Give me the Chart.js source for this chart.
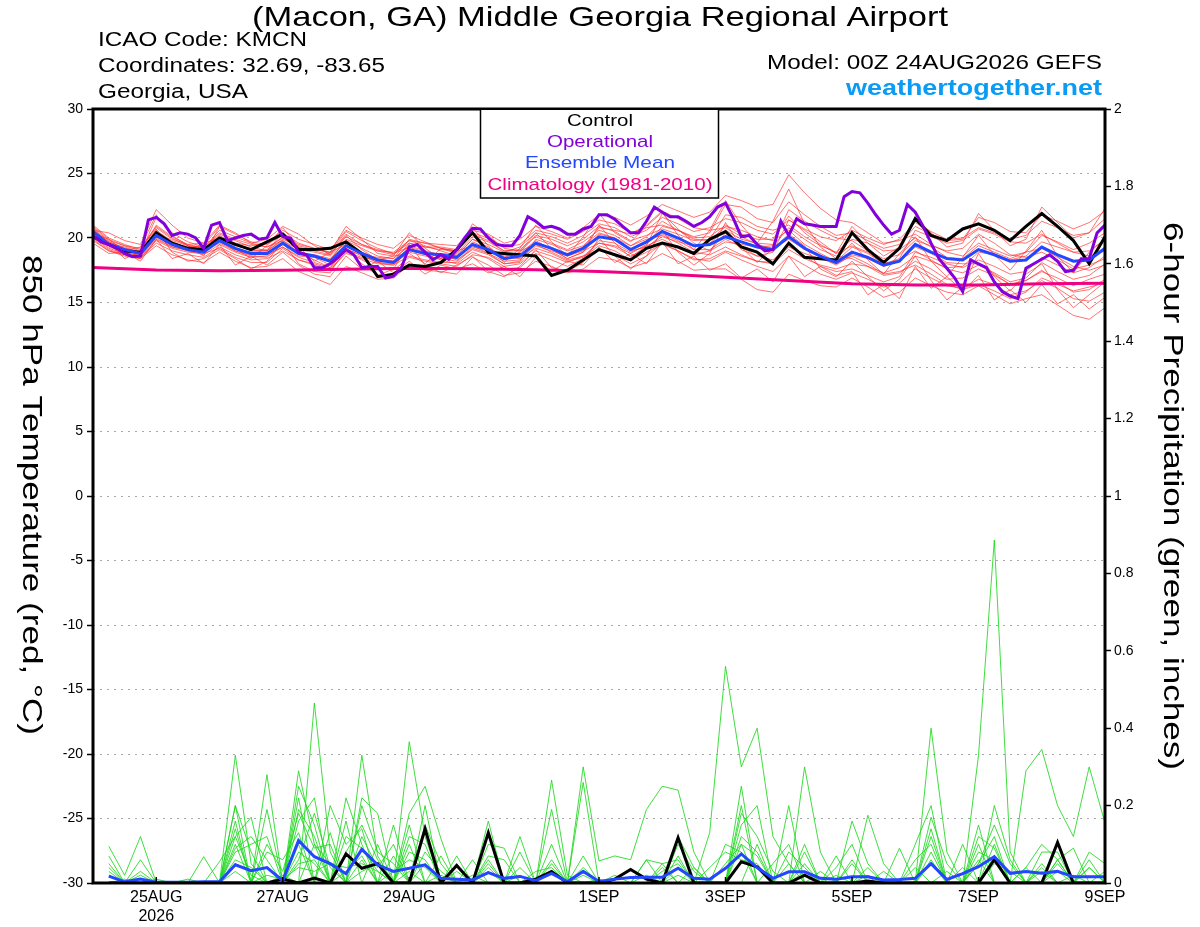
<!DOCTYPE html>
<html>
<head>
<meta charset="utf-8">
<script src="https://cdn.jsdelivr.net/npm/chart.js@4.4.1/dist/chart.umd.min.js"></script>
<style>
  html, body { margin: 0; padding: 0; background: #fff; }
</style>
</head>
<body>
<canvas id="myChart" width="1200" height="927"></canvas>
<script>
// Texts
const titleText = '(Macon, GA) Middle Georgia Regional Airport';
const infoLines = ['ICAO Code: KMCN', 'Coordinates: 32.69, -83.65', 'Georgia, USA'];
const modelText = 'Model: 00Z 24AUG2026 GEFS';
const siteText = 'weathertogether.net';
const leftTitle = '850 hPa Temperature (red, \u00B0C)';
const rightTitle = '6-hour Precipitation (green, inches)';
const legendNames = ['Control', 'Operational', 'Ensemble Mean', 'Climatology (1981-2010)'];

// x axis: hours after 00Z 24AUG2026
const tickHours = [24, 72, 120, 192, 240, 288, 336, 384];
const tickLabels = [['25AUG', '2026'], '27AUG', '29AUG', '1SEP', '3SEP', '5SEP', '7SEP', '9SEP'];

// Colors
const controlColor = '#000000';
const operColor = 'rgb(130, 0, 220)';
const meanColor = 'rgb(35, 70, 255)';
const climColor = 'rgb(240, 0, 130)';
const memberTempColor = 'rgba(255, 40, 40, 0.65)';
const memberPrecipColor = 'rgba(30, 215, 30, 0.85)';

// 850 hPa temperature, every 6 h from 00Z 24AUG
const tempControl = [20.1,19.5,19.0,18.9, 20.4,19.6,19.2,19.1, 20.0,19.5,19.1,19.7, 20.3,19.1,19.1,19.2, 19.7,18.8,17.0,17.2, 17.9,17.8,18.1,19.1, 20.4,18.9,18.8,18.7, 18.6,17.1,17.5,18.3, 19.1,18.7,18.3,19.2, 19.6,19.3,18.8,19.9, 20.5,19.3,18.9,18.0, 19.6,18.5,18.4,18.3, 20.4,19.1,18.1,19.2, 21.5,20.2,19.8,20.7, 21.1,20.6,19.8,20.9, 21.9,20.9,19.8,18.0, 20.1];
const tempMean = [20.5,19.5,19.1,18.8, 20.2,19.5,19.1,18.9, 19.8,19.2,18.8,18.8, 19.6,18.8,18.6,18.2, 19.4,18.8,18.3,18.1, 19.1,18.8,18.7,18.5, 19.5,19.1,18.4,18.6, 19.6,19.2,18.7,19.2, 20.1,19.9,19.1,19.7, 20.5,20.0,19.4,19.5, 20.1,19.7,19.3,19.1, 20.1,19.2,18.6,18.1, 18.9,18.5,17.9,18.2, 19.5,18.9,18.4,18.3, 19.1,18.7,18.2,18.3, 19.3,18.7,18.2,18.3, 19.2];
// operational run, every 3 h
const tempOper = [20.2,19.7,19.5,19.2,18.8,18.55,18.6,21.4,21.6,21.1, 20.2,20.4,20.3,20.0,19.2,21.0,21.2,19.8,20.0,20.2, 20.3,19.9,20.0,21.2,20.1,20.0,18.9,18.7,17.7,17.7, 18.0,18.5,19.1,18.7,17.7,17.8,17.8,16.9,17.05,17.7, 19.3,19.5,18.9,18.3,18.7,18.35,19.1,20.0,20.75,20.7, 20.0,19.5,19.4,19.4,20.2,21.65,21.3,20.8,20.9,20.7, 20.3,20.3,20.7,20.9,21.8,21.8,21.45,20.9,20.4,20.4, 21.3,22.4,22.0,21.65,21.65,21.3,20.9,21.2,21.65,22.4, 22.7,21.5,20.1,20.2,19.5,19.0,19.1,21.3,20.2,21.5, 21.1,21.0,20.9,20.9,20.9,23.2,23.6,23.5,22.7,21.8, 21.0,20.3,20.6,22.6,22.0,20.9,19.6,18.4,17.65,16.9, 15.85,18.3,18.0,17.7,16.6,15.85,15.5,15.3,17.65,18.0, 18.35,18.7,18.2,17.4,17.5,18.4,18.4,20.4,21.0];
// climatology, daily at 00Z
const tempClim = [17.72,17.52,17.47,17.5,17.57,17.65,17.62,17.53,17.4,17.2,16.95,16.7,16.45,16.35,16.35,16.45,16.5];

// ensemble members, 850 hPa temperature every 6 h
const tempMember01 = [20.9,19.9,19.4,19.0, 21.0,20.1,19.5,19.2, 20.3,19.8,19.3,19.0, 20.4,19.6,19.2,18.8, 20.3,19.5,19.0,18.7, 19.8,19.4,19.0,18.6, 19.9,19.3,18.5,18.4, 19.2,18.8,18.2,18.5, 19.4,19.0,18.3,18.9, 19.5,19.0,18.4,18.2, 18.9,18.3,17.8,17.4, 18.6,17.9,17.2,16.8, 17.3,16.8,16.2,16.5, 17.6,16.9,16.3,16.1, 16.8,16.4,15.6,15.9, 16.7,16.1,15.3,15.1, 15.8];
const tempMember02 = [20.1,19.2,18.8,18.5, 19.6,19.0,18.7,18.5, 19.3,18.7,18.3,18.4, 19.0,18.3,18.0,17.6, 18.8,18.4,18.0,17.9, 19.0,18.8,18.8,18.7, 19.9,19.5,18.9,19.3, 20.4,20.1,19.6,20.2, 21.1,20.8,20.1,20.6, 21.6,21.1,20.5,20.8, 21.5,21.2,20.6,20.3, 21.4,20.7,20.1,19.8, 20.6,20.0,19.5,19.9, 21.2,20.5,19.9,20.0, 20.8,20.4,19.9,20.2, 21.3,20.8,20.2,20.4, 21.5];
const tempMember03 = [20.7,19.6,19.3,18.9, 20.6,19.7,19.2,19.1, 20.2,19.5,19.0,19.1, 20.1,19.0,18.5,17.9, 19.0,18.3,17.7,17.5, 18.5,18.2,18.0,17.8, 18.7,18.5,17.8,18.0, 19.0,18.6,18.1,18.6, 19.6,19.4,18.8,19.5, 20.9,20.6,20.0,20.1, 21.0,20.3,19.9,19.9, 21.7,20.4,19.5,18.8, 19.4,18.9,18.0,18.3, 19.0,18.3,17.6,17.3, 17.9,17.3,16.6,16.9, 18.1,17.4,16.8,17.1, 18.0];
const tempMember04 = [20.3,19.4,19.0,18.7, 20.5,19.8,19.4,19.3, 20.4,19.9,19.5,19.3, 20.0,19.3,19.0,18.7, 20.1,19.5,19.1,18.8, 19.6,19.3,19.3,19.1, 20.3,19.8,19.0,19.1, 20.1,19.6,19.1,19.7, 20.6,20.2,19.4,19.9, 20.2,19.6,18.9,18.7, 19.3,18.7,18.2,18.0, 19.1,18.4,17.9,17.6, 18.0,17.8,17.3,17.7, 18.6,18.2,17.7,17.8, 18.9,18.7,18.3,18.6, 19.7,19.3,18.9,19.0, 19.9];
const tempMember05 = [20.6,19.7,19.2,18.9, 20.4,19.5,19.0,18.7, 19.5,18.9,18.5,18.6, 19.3,18.6,18.5,18.3, 19.9,19.4,19.0,18.9, 19.8,19.6,19.5,19.4, 20.6,20.3,19.6,19.9, 20.9,20.5,20.0,20.8, 21.8,21.6,21.0,21.7, 22.6,22.1,21.6,22.0, 23.3,22.9,22.4,22.6, 24.9,23.5,22.3,21.4, 21.2,20.4,19.6,19.8, 20.3,19.5,18.9,18.6, 19.6,19.1,18.6,18.9, 20.2,19.7,19.1,19.6, 20.4];
const tempMember06 = [19.9,19.0,18.6,18.4, 19.4,18.7,18.3,18.1, 18.9,18.2,17.7,17.8, 18.4,17.4,16.9,16.4, 17.8,17.3,16.8,16.9, 17.9,17.5,17.4,17.2, 18.5,17.9,17.1,17.3, 18.2,17.8,17.3,17.6, 18.5,18.3,17.7,18.1, 18.8,18.2,17.5,17.6, 17.6,16.8,16.0,15.8, 17.2,16.7,16.3,16.2, 16.9,16.2,15.4,15.8, 16.9,16.3,15.8,15.6, 16.3,15.6,14.9,15.3, 15.6,14.8,14.0,13.7, 14.6];
const tempMember07 = [20.8,19.8,19.4,19.2, 20.9,20.0,19.4,19.0, 19.9,19.4,19.1,19.0, 19.8,19.1,18.9,18.6, 19.8,19.2,18.6,18.4, 19.4,19.0,18.7,18.3, 19.1,18.7,18.0,18.2, 19.9,19.5,19.0,19.4, 20.4,20.0,19.4,20.1, 21.3,20.6,19.9,19.8, 20.9,20.6,20.1,19.8, 20.6,19.5,18.8,18.2, 19.3,18.8,18.0,18.4, 20.6,20.1,19.6,19.8, 20.7,20.3,19.7,19.6, 20.3,19.6,18.9,18.6, 19.0];
const tempMember08 = [20.2,19.3,18.9,18.6, 20.0,19.3,19.0,18.9, 19.8,19.0,18.6,18.5, 19.5,18.9,18.7,18.4, 19.7,18.9,18.4,18.2, 19.2,18.7,18.3,18.0, 18.9,18.4,17.6,17.7, 18.8,18.3,17.8,18.4, 19.8,19.6,18.9,19.4, 19.9,19.3,18.7,19.0, 19.7,19.5,19.3,19.4, 20.8,19.9,19.1,18.6, 18.4,17.8,17.1,17.3, 18.2,17.6,16.8,16.9, 17.6,17.1,16.4,16.7, 17.5,16.6,15.8,16.0, 16.8];
const tempMember09 = [20.4,19.5,19.1,18.8, 21.6,20.4,19.7,19.3, 19.7,19.1,18.9,19.0, 19.9,19.4,19.1,18.9, 20.5,19.8,19.2,18.8, 19.3,18.9,18.5,18.4, 19.7,19.2,18.6,18.8, 19.8,19.1,18.4,18.9, 20.3,20.0,19.0,19.3, 20.1,19.7,19.4,19.6, 20.6,19.9,19.6,19.5, 22.2,21.3,20.6,20.0, 19.8,19.0,18.4,18.7, 19.8,19.4,19.0,19.2, 20.3,19.6,18.7,18.5, 18.9,18.3,17.6,17.9, 18.4];
const tempMember10 = [20.5,19.4,18.9,18.6, 20.1,19.4,19.2,19.2, 20.6,20.1,19.6,19.3, 19.8,18.9,18.3,17.7, 19.2,18.6,18.1,18.0, 18.9,18.6,18.4,18.2, 19.3,19.0,18.5,18.9, 20.2,19.9,19.4,19.9, 20.9,20.5,19.8,20.2, 20.7,20.3,19.8,19.9, 21.8,21.6,20.9,20.6, 21.0,20.1,19.4,18.9, 19.9,19.6,19.0,19.1, 20.0,19.3,18.5,18.4, 19.4,18.9,18.4,18.9, 19.2,18.5,17.8,17.5, 17.9];
const tempMember11 = [20.0,19.1,18.7,18.4, 19.8,19.2,18.9,18.8, 19.2,18.5,18.1,18.1, 19.2,18.3,17.9,17.5, 18.9,18.5,18.3,18.2, 19.6,19.3,19.1,19.0, 19.4,18.8,18.0,18.1, 19.4,19.0,18.6,19.0, 19.6,19.3,18.6,19.2, 20.3,19.8,19.1,19.1, 19.9,19.3,18.6,18.3, 19.4,18.6,17.8,17.4, 17.6,17.1,16.6,17.0, 18.9,18.5,18.0,17.7, 18.3,17.8,17.2,17.4, 18.5,17.9,17.3,17.7, 18.6];
const tempMember12 = [20.7,19.7,19.2,18.9, 20.3,19.6,19.3,19.4, 20.9,20.3,19.7,19.5, 20.2,19.5,19.2,18.9, 19.5,18.7,18.1,17.9, 18.6,18.3,18.1,18.1, 19.2,18.8,18.2,18.3, 19.5,19.2,18.8,19.3, 20.8,20.6,20.3,21.0, 22.1,21.5,20.8,20.6, 20.8,20.1,19.5,19.2, 19.9,19.1,18.5,17.9, 18.7,18.4,17.8,18.2, 19.3,18.8,18.1,18.0, 18.0,17.2,16.4,16.7, 17.4,16.9,16.3,16.8, 17.2];
const tempMember13 = [19.8,19.0,18.7,18.5, 19.9,19.3,19.1,19.0, 19.6,19.0,18.7,18.7, 19.3,18.5,18.1,17.7, 19.1,18.7,18.5,18.4, 19.9,19.6,19.2,18.8, 20.1,19.7,19.0,19.0, 19.5,18.9,18.3,18.6, 19.1,18.7,18.0,18.6, 19.6,19.0,18.3,18.4, 19.0,18.6,18.2,18.1, 19.3,18.8,18.4,18.0, 18.6,18.0,17.2,17.4, 17.9,17.2,16.4,16.0, 16.4,15.9,15.3,15.8, 16.9,16.4,15.9,16.2, 16.5];
const tempMember14 = [21.0,20.0,19.5,19.1, 20.8,19.9,19.5,19.6, 20.0,19.6,19.4,19.6, 20.6,19.9,19.5,19.1, 20.6,20.0,19.5,19.2, 20.2,19.7,19.2,19.0, 20.4,20.0,19.3,19.5, 20.6,20.3,19.9,20.5, 21.4,21.1,20.4,20.8, 21.0,20.6,20.1,20.4, 22.6,22.4,21.5,21.2, 22.8,21.8,20.9,20.2, 20.4,19.8,19.2,19.5, 20.9,20.3,19.8,19.9, 21.6,21.2,20.5,20.4, 21.8,21.3,20.7,21.2, 22.1];
const tempMember15 = [20.4,19.9,19.0,19.3, 21.8,20.2,19.4,18.6, 20.9,19.2,18.4,19.4, 20.8,19.3,18.2,18.9, 20.9,19.9,18.8,18.6, 18.8,18.0,19.2,19.0, 20.8,19.4,18.1,19.2, 21.0,19.7,18.6,20.1, 21.9,20.4,19.7,20.9, 22.0,20.2,19.1,20.6, 22.9,21.0,19.6,21.3, 23.8,21.1,19.3,18.4, 19.6,18.3,17.2,18.8, 20.1,18.2,17.0,18.5, 20.2,18.7,17.5,19.0, 20.6,18.6,17.3,18.9, 19.9];
const tempMember16 = [19.6,18.8,18.9,18.2, 19.9,18.4,18.8,18.0, 19.5,17.9,18.6,17.9, 18.9,17.9,17.2,17.0, 18.6,17.6,18.2,17.3, 18.2,17.2,17.9,17.6, 18.0,17.3,17.8,17.0, 18.5,17.4,18.2,17.9, 19.3,18.1,18.8,18.0, 19.7,18.0,18.6,17.5, 18.0,16.9,17.6,16.6, 18.6,17.0,17.8,17.1, 17.4,15.6,16.4,15.3, 17.8,16.1,17.0,15.9, 17.1,15.2,16.0,15.0, 16.4,14.9,15.6,14.5, 15.4];
const tempMember17 = [20.6,20.4,19.8,19.5, 22.2,21.0,20.0,19.6, 21.0,20.4,19.6,19.9, 20.9,20.3,19.4,18.7, 20.2,19.1,18.3,18.6, 20.4,19.2,18.4,18.9, 21.1,20.2,19.2,19.0, 20.4,19.2,18.4,18.9, 21.0,19.6,18.5,19.4, 21.9,20.7,19.6,19.0, 20.4,19.1,18.6,18.9, 21.4,20.6,19.7,18.8, 20.9,19.6,18.6,19.3, 21.6,20.4,19.3,19.6, 21.9,20.6,19.4,19.9, 22.4,21.2,20.0,20.4, 22.3];
const tempMember18 = [20.0,19.6,18.4,18.9, 20.7,18.9,18.2,18.4, 19.1,18.4,17.6,18.2, 19.7,18.0,17.4,17.3, 19.2,18.0,17.1,17.6, 19.5,17.9,17.3,17.9, 18.6,17.4,17.0,17.8, 19.1,17.7,17.4,18.1, 20.0,18.6,17.6,18.6, 20.6,18.9,17.9,18.8, 21.2,19.3,18.1,19.2, 20.3,19.4,17.6,17.0, 18.2,17.0,15.9,16.8, 18.6,16.7,15.2,16.2, 18.8,17.0,15.9,17.2, 18.0,16.0,14.6,15.6, 16.6];
const tempMembers = [tempMember01, tempMember02, tempMember03, tempMember04, tempMember05, tempMember06, tempMember07, tempMember08, tempMember09,
  tempMember10, tempMember11, tempMember12, tempMember13, tempMember14, tempMember15, tempMember16, tempMember17, tempMember18];

// 6-hour precipitation (inches), every 6 h from 06Z 24AUG
const precipControl = [0,0,0,0,0,0,0,0, 0,0,0,.01,0,.013,0,.075, .038,.05,0,0,.14,0,.045,0, .13,0,0,.01,.03,0,0,0, .01,.035,.01,0,.117,0,0,0, .055,.042,0,0,.02,0,0,0, .005,0,0,0,0,0,0,0, .06,0,0,0,.105,0,0,0];
const precipMean = [.018,.003,.01,.002,.002,.002,.003,.003, .047,.032,.04,.006,.11,.068,.05,.024, .087,.047,.03,.038,.047,.012,.01,.008, .027,.012,.017,.006,.025,.003,.03,.004, .01,.014,.015,.015,.038,.012,.01,.038, .075,.04,.012,.029,.029,.012,.01,.016, .016,.008,.009,.012,.05,.009,.024,.042, .068,.025,.03,.025,.03,.016,.016,.016];

const precipMember01 = [.095,.02,.12,0,0,0,0,0, .33,.05,0,0,0,.465,.08,0, 0,0,0,.365,.12,0,0,0, .16,0,0,0,0,0,.3,.057, .07,.06,.19,.25,.24,.08,0,0, 0,0,0,0,0,0,0,0, 0,0,0,0,.14,0,0,.33, .886,.08,0,0,0,0,.04,0];
const precipMember02 = [0,0,.06,0,0,0,0,0, .2,0,.28,0,.1,0,0,0, .33,.07,0,0,0,0,0,0, 0,0,0,0,.266,.02,0,0, 0,0,0,0,0,0,.13,.56, .3,.4,.12,.05,0,0,0,0, 0,0,0,0,0,0,0,.1, 0,0,0,0,0,0,0,0];
const precipMember03 = [.07,0,0,0,0,0,.068,0, .16,0,0,0,.29,.1,0,.22, .1,0,0,.18,.25,.115,0,0, 0,0,.12,0,0,0,0,0, 0,0,0,.05,.06,0,0,0, 0,0,0,0,.3,.08,0,0, 0,0,0,0,.4,.08,0,0, 0,0,0,.08,.08,0,0,0];
const precipMember04 = [.05,0,0,0,0,0,0,.055, .12,.17,0,0,.25,.15,0,0, .22,.18,0,.15,0,0,0,0, 0,0,0,0,.19,0,.26,0, 0,0,.06,.05,0,0,0,0, 0,0,0,.2,0,0,0,.16, .05,0,0,0,0,0,0,.05, .12,0,0,0,0,0,0,0];
const precipMember05 = [0,0,.03,0,0,0,0,0, .1,0,.19,0,.22,0,.2,.1, .14,0,.15,0,.2,0,.07,0, 0,0,0,0,0,0,0,0, 0,0,0,0,.12,.04,0,0, .25,0,0,0,0,0,0,0, .175,.05,0,0,0,0,0,0, 0,0,.29,.345,.2,.12,.3,.155];
const precipMember06 = [.03,0,0,0,0,0,0,0, .08,.1,.12,0,.16,.22,0,.16, 0,.1,0,.1,0,0,0,0, .1,.09,0,0,0,0,0,0, 0,0,0,0,0,0,0,0, .15,.2,0,0,0,0,0,0, 0,0,0,.1,.2,0,0,.15, 0,0,0,0,.06,.09,0,0];
const precipMember07 = [0,0,0,0,0,0,0,0, 0,0,.08,.06,.13,0,.13,0, .06,0,.07,0,0,.07,0,.06, 0,0,.08,0,0,0,0,0, 0,0,0,0,0,0,0,0, .2,0,0,0,0,0,.07,0, 0,0,.09,0,0,0,.1,0, .1,0,0,0,0,0,0,0];
const precipMember08 = [0,.01,0,0,0,0,0,0, .06,.04,0,.02,0,.1,.05,.04, .05,.03,0,0,.05,0,.05,0, .07,.06,0,.03,.04,0,0,0, 0,0,.06,0,0,.04,0,0, 0,.1,0,0,.08,0,.04,.1, 0,.03,0,0,.05,0,0,0, .05,.03,0,.04,0,0,0,0];
const precipMember09 = [0,0,0,.01,0,.01,0,0, .05,.03,.04,0,.05,.06,0,.03, .07,0,.03,.06,.04,0,0,0, 0,0,0,0,.03,0,.04,0, .02,0,0,.03,.05,0,0,.1, .08,0,.05,.1,0,.03,0,0, 0,0,0,.04,0,.03,0,.06, 0,0,.04,0,.05,0,.04,0];
const precipMember10 = [0,0,0,0,0,0,0,0, .03,0,.02,.01,.04,.03,.05,0, .03,.05,0,.03,0,.02,0,.02, 0,0,.02,0,0,0,0,.01, 0,0,.02,0,.02,0,.04,.08, .06,.05,0,0,.03,0,0,0, .02,0,0,0,.06,0,.04,0, .07,0,0,.03,0,.02,0,.03];
const precipMember11 = [0,0,0,0,0,0,0,0, .2,.08,0,0,.19,.12,0,.08, .15,.06,0,.12,.1,0,0,0, .05,0,0,0,.05,0,0,0, 0,0,0,.04,0,0,0,0, .12,.08,0,.05,0,0,0,.06, 0,0,0,0,.12,0,0,.08, .06,0,0,.05,0,0,.06,0];
const precipMember12 = [.02,0,.01,0,0,0,0,0, .14,0,.1,.03,.18,.09,.1,0, .12,.04,.1,0,.08,.03,0,0, .04,0,0,0,0,0,.02,0, 0,0,0,0,.1,.03,0,0, .1,0,0,0,.05,0,0,0, .04,0,0,0,.08,0,0,.05, .15,.05,0,0,.06,0,0,0];
const precipMember13 = [.04,0,.02,0,0,0,0,0, .09,.12,.06,0,.08,.05,0,.12, .09,.03,0,.08,.06,0,.03,0, .06,0,.04,0,.1,0,.07,0, 0,0,0,0,.07,0,0,.05, .1,.07,0,.08,.04,0,0,.05, 0,0,0,.06,.1,0,0,.12, .09,0,.04,.1,.06,0,.08,.05];
const precipMember14 = [0,0,0,0,0,0,0,0, .12,.02,0,0,.06,.18,.04,0, .2,.08,.05,0,.15,.05,0,0, .03,0,0,0,.06,0,0,0, 0,0,0,0,.04,0,0,0, .18,.12,.03,0,.1,0,.02,0, 0,0,0,0,.17,.05,0,0, .2,.06,0,0,.03,0,0,0];
const precipMembers = [precipMember01, precipMember02, precipMember03, precipMember04, precipMember05, precipMember06, precipMember07,
  precipMember08, precipMember09, precipMember10, precipMember11, precipMember12, precipMember13, precipMember14];

const fontFamily = '"Liberation Sans", Arial, Helvetica, sans-serif';

// turn a value list into {x, y} points; step = hours between values, first = hour of the first value
function line(values, step, first, axis, color, width) {
  return {
    data: values.map((v, i) => ({ x: first + i * step, y: v })),
    yAxisID: axis,
    borderColor: color,
    backgroundColor: color,
    borderWidth: width,
    pointRadius: 0,
    fill: false,
    tension: 0
  };
}

// text squeezed / stretched to the width it has in the reference
function fitText(ctx, text, x, y, size, width, align, color, weight) {
  ctx.save();
  ctx.font = (weight || 'normal') + ' ' + size + 'px ' + fontFamily;
  ctx.textAlign = align;
  ctx.textBaseline = 'middle';
  ctx.fillStyle = color;
  const w = ctx.measureText(text).width;
  ctx.translate(x, y);
  ctx.scale(width / w, 1);
  ctx.fillText(text, 0, 0);
  ctx.restore();
}

// main lines first so they end up on top
const datasets = [
  line(tempOper, 3, 0, 'yT', operColor, 3),
  line(tempMean, 6, 0, 'yT', meanColor, 3),
  line(tempControl, 6, 0, 'yT', controlColor, 3),
  line(tempClim, 24, 0, 'yT', climColor, 3),
  line(precipMean, 6, 6, 'yP', meanColor, 3),
  line(precipControl, 6, 6, 'yP', controlColor, 3)
];
tempMembers.forEach(m => datasets.push(line(m, 6, 0, 'yT', memberTempColor, 1)));
precipMembers.forEach(m => datasets.push(line(m, 6, 6, 'yP', memberPrecipColor, 1)));

// background, frame, header, legend box and axis titles
const decorations = {
  id: 'meteogram_decorations',
  beforeDraw: (chart) => {
    const ctx = chart.ctx;
    ctx.save();
    ctx.fillStyle = '#ffffff';
    ctx.fillRect(0, 0, chart.width, chart.height);
    ctx.restore();
  },
  afterDraw: (chart) => {
    const ctx = chart.ctx;
    const a = chart.chartArea;
    const xs = chart.scales.x;
    ctx.save();

    // x tick marks pointing into the plot
    ctx.strokeStyle = '#000';
    ctx.lineWidth = 1.5;
    tickHours.forEach(h => {
      const px = xs.getPixelForValue(h);
      ctx.beginPath();
      ctx.moveTo(px, a.bottom);
      ctx.lineTo(px, a.bottom - 6);
      ctx.stroke();
    });

    // frame
    ctx.lineWidth = 3;
    ctx.strokeRect(a.left, a.top, a.right - a.left, a.bottom - a.top);

    // legend box
    ctx.fillStyle = '#fff';
    ctx.fillRect(480, a.top + 1, 238, 88);
    ctx.lineWidth = 1.5;
    ctx.strokeRect(480.5, a.top, 238, 89);
    const legendColors = [controlColor, operColor, meanColor, climColor];
    const legendWidths = [66, 106, 150, 225];
    const legendY = [121, 142, 163, 185];
    legendNames.forEach((n, i) => fitText(ctx, n, 600, legendY[i], 17, legendWidths[i], 'center', legendColors[i]));

    // header
    fitText(ctx, titleText, 600, 18, 28, 696, 'center', '#000');
    const infoWidths = [209, 287, 150];
    infoLines.forEach((t, i) => fitText(ctx, t, 98, 40 + i * 26, 20, infoWidths[i], 'left', '#000'));
    fitText(ctx, modelText, 1102, 63, 20, 335, 'right', '#000');
    fitText(ctx, siteText, 1102, 89, 22, 256, 'right', '#0a9cf5', 'bold');

    // axis titles, both read top to bottom
    ctx.save();
    ctx.translate(31, 495);
    ctx.rotate(Math.PI / 2);
    fitText(ctx, leftTitle, 0, 0, 28, 480, 'center', '#000');
    ctx.restore();
    ctx.save();
    ctx.translate(1172, 496);
    ctx.rotate(Math.PI / 2);
    fitText(ctx, rightTitle, 0, 0, 28, 548, 'center', '#000');
    ctx.restore();

    ctx.restore();
  }
};

const ctx = document.getElementById('myChart').getContext('2d');
const chart = new Chart(ctx, {
  type: 'line',
  data: { datasets: datasets },
  plugins: [decorations],
  options: {
    responsive: false,
    animation: false,
    devicePixelRatio: 1,
    layout: { padding: { top: 109, left: 0, right: 0, bottom: 0 } },
    plugins: {
      legend: { display: false },
      tooltip: { enabled: false },
      title: { display: false }
    },
    scales: {
      x: {
        type: 'linear',
        min: 0,
        max: 384,
        afterBuildTicks: (scale) => { scale.ticks = tickHours.map(h => ({ value: h })); },
        afterFit: (scale) => { scale.height = 44; },
        ticks: {
          autoSkip: false,
          maxRotation: 0,
          padding: 5,
          color: '#000',
          font: { family: fontFamily, size: 16 },
          callback: (value, index) => tickLabels[index]
        },
        grid: { display: false, drawTicks: false },
        border: { display: false }
      },
      yT: {
        position: 'left',
        min: -30,
        max: 30,
        afterFit: (scale) => { scale.width = 93; },
        ticks: { stepSize: 5, padding: 4, color: '#000', font: { family: fontFamily, size: 14 } },
        grid: { color: '#a8a8a8', lineWidth: 1, tickColor: '#000', tickLength: 6, tickWidth: 1.5 },
        border: { display: false, dash: [2, 5] }
      },
      yP: {
        position: 'right',
        min: 0,
        max: 2,
        afterFit: (scale) => { scale.width = 95; },
        ticks: {
          stepSize: 0.2,
          padding: 3,
          color: '#000',
          font: { family: fontFamily, size: 14 },
          callback: (v) => String(Math.round(v * 10) / 10)
        },
        grid: { drawOnChartArea: false, tickColor: '#000', tickLength: 6, tickWidth: 1.5 },
        border: { display: false }
      }
    }
  }
});
</script>
</body>
</html>
